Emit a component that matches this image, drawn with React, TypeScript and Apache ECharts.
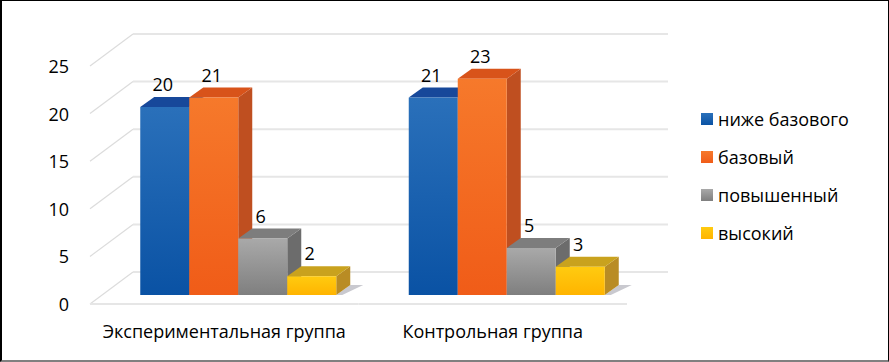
import React, { useEffect, useRef } from "react";
import * as echarts from "echarts";

const categories = ["Экспериментальная группа", "Контрольная группа"];
const levelNames = ["ниже базового", "базовый", "повышенный", "высокий"];
const belowBasic = [20, 21];
const basic = [21, 23];
const elevated = [6, 5];
const high = [2, 3];
const levelValues = [belowBasic, basic, elevated, high];
const axisTicks = [0, 5, 10, 15, 20, 25];

const frontTop = ["#2a70ba", "#f6792b", "#a9a9a9", "#ffcb10"];
const frontBottom = ["#0a52a4", "#f05c18", "#7f7f7f", "#ffb400"];
const topFace = ["#17489a", "#d8531a", "#7d7d7d", "#c9a21e"];
const sideFace = ["#12407f", "#bf4f20", "#6c6c6c", "#b98c24"];

const FONT = '"Open Sans"';
const BAR_W = 49;
const DEPTH_X = 14;
const DEPTH_Y = 10;
const PLANE_X = 14;
const PLANE_Y = 9;
const WALL_X = 43;
const WALL_Y = 32;
const WALL_RIGHT = 41;

const vGrad = (a: string, b: string) =>
  new echarts.graphic.LinearGradient(0, 0, 0, 1, [
    { offset: 0, color: a },
    { offset: 1, color: b },
  ]);

function barSeries(level: number) {
  return {
    type: "custom",
    name: levelNames[level],
    yAxisIndex: 1,
    z: 5 + level,
    itemStyle: { color: vGrad(frontTop[level], frontBottom[level]) },
    encode: { x: 0, y: 1 },
    data: levelValues[level].map((v, c) => [c, v]),
    renderItem: (_p: any, api: any) => {
      const cat = api.value(0);
      const val = api.value(1);
      const base = api.coord([cat, 0]);
      const top = api.coord([cat, val]);
      const x = base[0] + PLANE_X - 2 * BAR_W + level * BAR_W;
      const y1 = base[1] - PLANE_Y;
      const y0 = top[1] - PLANE_Y;
      const x1 = x + BAR_W;
      return {
        type: "group",
        children: [
          {
            type: "polygon",
            shape: { points: [[x1, y0], [x1 + DEPTH_X, y0 - DEPTH_Y], [x1 + DEPTH_X, y1 - DEPTH_Y], [x1, y1]] },
            style: { fill: sideFace[level] },
          },
          {
            type: "polygon",
            shape: { points: [[x, y0], [x1, y0], [x1 + DEPTH_X, y0 - DEPTH_Y], [x + DEPTH_X, y0 - DEPTH_Y]] },
            style: { fill: topFace[level] },
          },
          {
            type: "rect",
            shape: { x, y: y0, width: BAR_W, height: y1 - y0 },
            style: { fill: vGrad(frontTop[level], frontBottom[level]) },
          },
          {
            type: "text",
            style: {
              x: x + BAR_W / 2 - 2,
              y: y0 - 23,
              text: String(val),
              font: `18px ${FONT}`,
              fill: "#000",
              align: "center",
              verticalAlign: "middle",
            },
          },
        ],
      };
    },
  };
}

const wallSeries = {
  type: "custom",
  name: "wall",
  z: 1,
  silent: true,
  encode: { y: 0 },
  data: axisTicks.map((t) => [t]),
  renderItem: (p: any, api: any) => {
    const sys = p.coordSys;
    const y = api.coord([0, api.value(0)])[1];
    const xl = sys.x;
    const xr = sys.x + sys.width;
    return {
      type: "group",
      children: [
        {
          type: "line",
          shape: { x1: xl, y1: y, x2: xl + WALL_X, y2: y - WALL_Y },
          style: { stroke: "#dcdcdc", lineWidth: 1.2 },
        },
        {
          type: "line",
          shape: { x1: xl + WALL_X, y1: y - WALL_Y, x2: xr + WALL_RIGHT, y2: y - WALL_Y },
          style: { stroke: "#e6e6e6", lineWidth: 2 },
        },
      ],
    };
  },
};

const floorSeries = {
  type: "custom",
  name: "floor",
  z: 1,
  silent: true,
  encode: { x: 0 },
  data: categories.map((_, c) => [c]),
  renderItem: (p: any, api: any) => {
    const sys = p.coordSys;
    const c = api.value(0);
    const base = api.coord([c, 0]);
    const y = sys.y + sys.height;
    const x0 = base[0] + PLANE_X - 2 * BAR_W;
    const x1 = x0 + 4 * BAR_W;
    return {
      type: "group",
      children: [
        {
          type: "line",
          shape: { x1: c === 0 ? sys.x : base[0] - sys.width / 4, y1: y, x2: c === 0 ? base[0] + sys.width / 4 : sys.x + sys.width, y2: y },
          style: { stroke: "#e6e6e6", lineWidth: 2 },
        },
        {
          type: "polygon",
          shape: {
            points: [
              [x0 - 10, y - PLANE_Y],
              [x1, y - PLANE_Y],
              [x1 + DEPTH_X, y - PLANE_Y - DEPTH_Y],
              [x1 + DEPTH_X + 13, y - PLANE_Y - DEPTH_Y],
              [x1 + 6, y - PLANE_Y],
            ],
          },
          style: { fill: "#c9c9cf" },
        },
      ],
    };
  },
};

const option = {
  animation: false,
  backgroundColor: "#ffffff",
  textStyle: { fontFamily: FONT },
  legend: {
    data: levelNames,
    orient: "vertical",
    left: 696,
    top: 104,
    icon: "rect",
    itemWidth: 12,
    itemHeight: 12,
    itemGap: 18,
    selectedMode: false,
    textStyle: { fontFamily: FONT, fontSize: 18, color: "#000", lineHeight: 20 },
  },
  grid: { left: 90, right: 262, top: 66, bottom: 58 },
  xAxis: {
    type: "category",
    data: categories,
    axisLine: { show: false },
    axisTick: { show: false },
    axisLabel: { fontFamily: FONT, fontSize: 18, color: "#000", margin: 18, interval: 0 },
  },
  yAxis: [
    {
      type: "value",
      min: 0,
      max: 25,
      interval: 5,
      axisLine: { show: false },
      axisTick: { show: false },
      splitLine: { show: false },
      axisLabel: { fontFamily: FONT, fontSize: 18, color: "#000", margin: 21 },
    },
    { type: "value", min: 0, max: 25.32, show: false, splitLine: { show: false } },
  ],
  series: [wallSeries, floorSeries, barSeries(0), barSeries(1), barSeries(2), barSeries(3)],
};

export default function App() {
  const ref = useRef<HTMLDivElement>(null);
  useEffect(() => {
    document.body.style.margin = "0";
    const chart = echarts.init(ref.current!, undefined, { renderer: "svg" });
    chart.setOption(option as any);
    return () => chart.dispose();
  }, []);
  return (
    <div style={{ position: "absolute", left: 0, top: 0, width: 889, height: 362, overflow: "hidden" }}>
      <div ref={ref} style={{ width: 889, height: 362 }} />
      <div
        style={{
          position: "absolute",
          inset: 0,
          boxSizing: "border-box",
          pointerEvents: "none",
          borderTop: "1px solid #000",
          borderLeft: "2px solid #000",
          borderRight: "1px solid #000",
          borderBottom: "2px solid #808080",
        }}
      />
    </div>
  );
}
